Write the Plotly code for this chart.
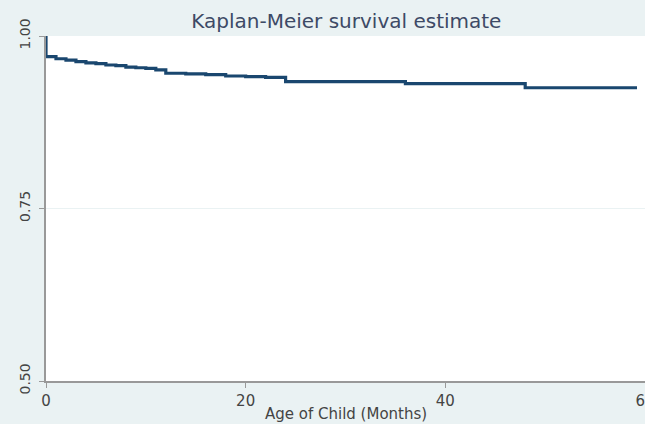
import plotly.graph_objects as go

# Kaplan-Meier step data (time in months, survival probability)
times = [0, 0, 1, 2, 3, 4, 5, 6, 7, 8, 9, 10, 11, 12, 14, 16, 18, 20, 22, 24, 36, 48, 59.2]
survival = [1.0, 0.970, 0.967, 0.965, 0.963, 0.961, 0.960, 0.958, 0.957, 0.955, 0.954,
            0.953, 0.951, 0.946, 0.945, 0.944, 0.942, 0.941, 0.940, 0.934, 0.931, 0.925, 0.925]

x_ticks = [0, 20, 40, 60]
y_ticks = [0.50, 0.75, 1.00]
y_tick_labels = ["0.50", "0.75", "1.00"]

fig = go.Figure()
fig.add_trace(go.Scatter(
    x=times, y=survival, mode="lines", line_shape="hv",
    line=dict(color="#1a476f", width=3.2), showlegend=False, hoverinfo="skip",
))

fig.update_layout(
    width=645, height=424,
    paper_bgcolor="#eaf2f3", plot_bgcolor="#ffffff",
    margin=dict(l=46, r=0, t=36, b=43, autoexpand=False),
    font=dict(family="DejaVu Sans, Arial, sans-serif", color="#444444", size=14),
    title=dict(text="Kaplan-Meier survival estimate", x=0.537, xanchor="center",
               y=1 - 21 / 424, yanchor="middle", automargin=False,
               font=dict(size=20, color="#3d4a66")),
    xaxis=dict(range=[0, 60], tickvals=x_ticks, ticks="outside", ticklen=5,
               tickcolor="#999999", showline=True, linecolor="#999999", linewidth=1.5,
               showgrid=False, zeroline=False, automargin=False,
               ticklabeloverflow="allow",
               tickfont=dict(size=15, color="#444444")),
    yaxis=dict(range=[0.5, 1.0], tickvals=y_ticks, ticktext=y_tick_labels, tickangle=-90,
               ticks="outside", ticklen=5, tickcolor="#999999", showline=True,
               linecolor="#999999", linewidth=1.5, showgrid=True, gridcolor="#eaf2f3",
               zeroline=False, automargin=False, ticklabeloverflow="allow",
               ticklabelstandoff=4,
               tickfont=dict(size=14, color="#444444")),
    annotations=[dict(text="Age of Child (Months)", xref="paper", yref="paper",
                      x=0.5, y=0, xanchor="center", yanchor="top", yshift=-22,
                      showarrow=False, font=dict(size=15, color="#444444"))],
)

fig.write_html("out.html", config={"displayModeBar": False},
               post_script="document.body.style.margin='0';document.body.style.overflow='hidden';")
